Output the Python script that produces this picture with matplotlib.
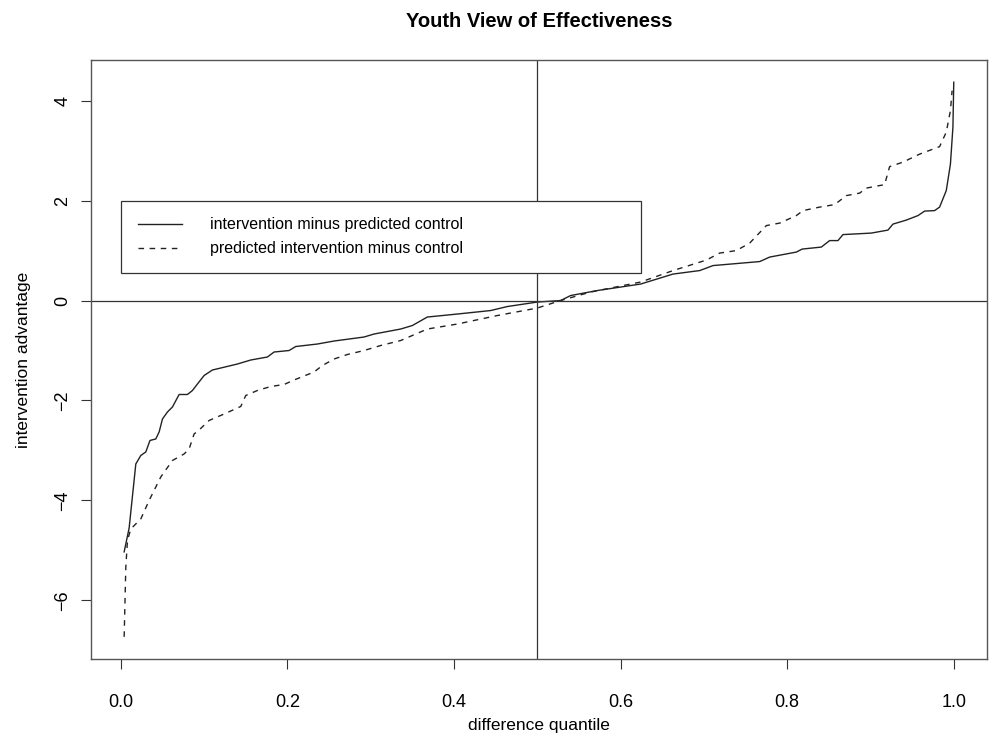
import matplotlib
matplotlib.use('Agg')
from matplotlib import pyplot as plt

plt.rcParams['font.family'] = ['Liberation Sans', 'DejaVu Sans']

# intervention minus predicted control (solid)
solid_q = [0.004, 0.010, 0.018, 0.024, 0.030, 0.035, 0.042, 0.046, 0.050, 0.056,
           0.062, 0.070, 0.080, 0.086, 0.092, 0.100, 0.110, 0.120, 0.140, 0.156,
           0.176, 0.184, 0.202, 0.210, 0.236, 0.256, 0.292, 0.304, 0.336, 0.350,
           0.368, 0.404, 0.444, 0.464, 0.500, 0.528, 0.540, 0.572, 0.624, 0.663,
           0.695, 0.711, 0.767, 0.779, 0.811, 0.818, 0.841, 0.851, 0.861, 0.867,
           0.901, 0.921, 0.927, 0.943, 0.957, 0.965, 0.977, 0.983, 0.991, 0.996,
           0.999, 1.000]
solid_adv = [-5.03, -4.55, -3.27, -3.10, -3.03, -2.80, -2.77, -2.63, -2.37, -2.23,
             -2.13, -1.88, -1.88, -1.80, -1.67, -1.50, -1.39, -1.35, -1.27, -1.19,
             -1.13, -1.03, -1.00, -0.92, -0.87, -0.81, -0.73, -0.67, -0.57, -0.50,
             -0.33, -0.27, -0.20, -0.12, -0.03, 0.00, 0.10, 0.20, 0.33, 0.53,
             0.60, 0.70, 0.78, 0.87, 0.97, 1.03, 1.07, 1.20, 1.20, 1.32,
             1.35, 1.41, 1.53, 1.61, 1.70, 1.79, 1.80, 1.87, 2.20, 2.73,
             3.47, 4.37]

# predicted intervention minus control (dashed)
dash_q = [0.004, 0.006, 0.008, 0.012, 0.024, 0.034, 0.048, 0.062, 0.076, 0.082,
          0.088, 0.094, 0.106, 0.124, 0.144, 0.150, 0.164, 0.180, 0.196, 0.208,
          0.232, 0.242, 0.256, 0.272, 0.292, 0.312, 0.336, 0.368, 0.404, 0.452,
          0.500, 0.528, 0.564, 0.624, 0.663, 0.703, 0.719, 0.739, 0.755, 0.775,
          0.791, 0.811, 0.819, 0.839, 0.857, 0.871, 0.887, 0.895, 0.917, 0.923,
          0.939, 0.959, 0.983, 0.991, 0.996, 0.998]
dash_adv = [-6.73, -5.33, -4.80, -4.57, -4.37, -4.00, -3.53, -3.20, -3.07, -2.97,
            -2.67, -2.59, -2.40, -2.27, -2.12, -1.90, -1.80, -1.72, -1.68, -1.59,
            -1.43, -1.30, -1.17, -1.08, -1.00, -0.90, -0.80, -0.57, -0.47, -0.30,
            -0.15, 0.00, 0.17, 0.37, 0.60, 0.81, 0.95, 1.00, 1.15, 1.50,
            1.55, 1.70, 1.80, 1.87, 1.92, 2.10, 2.15, 2.25, 2.32, 2.68,
            2.77, 2.93, 3.08, 3.37, 3.80, 4.20]

xticks = [0.0, 0.2, 0.4, 0.6, 0.8, 1.0]
yticks = [-6, -4, -2, 0, 2, 4]
labels = ['intervention minus predicted control', 'predicted intervention minus control']

fig = plt.figure(figsize=(9.92, 7.37), dpi=100)
ax = fig.add_axes([0.0917, 0.1058, 0.9032, 0.8128])

ax.plot(solid_q, solid_adv, color='#222222', lw=1.0, label=labels[0])
ax.plot(dash_q, dash_adv, color='#222222', lw=1.0, linestyle=(0, (4, 4)), label=labels[1])
ax.axvline(0.5, color='#333333', lw=0.9)
ax.axhline(0, color='#333333', lw=0.9)

# R style 4% padding
xr = max(solid_q) - min(solid_q)
yr = max(solid_adv + dash_adv) - min(solid_adv + dash_adv)
ax.set_xlim(min(solid_q) - 0.04 * xr, max(solid_q) + 0.04 * xr)
ax.set_ylim(min(solid_adv + dash_adv) - 0.04 * yr, max(solid_adv + dash_adv) + 0.04 * yr)

ax.set_xticks(xticks)
ax.set_yticks(yticks)
ax.set_xticklabels(['%.1f' % v for v in xticks])
ax.set_yticklabels([str(v).replace('-', '\u2212') for v in yticks], rotation=90, va='center')
ax.tick_params(direction='out', length=7, width=0.8, colors='#333333', labelcolor='black',
               labelsize=13)
ax.tick_params(axis='x', pad=18)
ax.tick_params(axis='y', pad=7)
for s in ax.spines.values():
    s.set_color('#555555')
    s.set_linewidth(1.0)

ax.set_title('Youth View of Effectiveness', fontsize=14.5, fontweight='bold', pad=24)
ax.set_xlabel('difference quantile', fontsize=12.5, labelpad=5)
ax.set_ylabel('intervention advantage', fontsize=12.5, labelpad=17)

# legend box stretched to the width R gave it
leg = ax.legend(loc='upper left', bbox_to_anchor=(0, 0.56, 0.624, 1.44),
                bbox_transform=ax.transData, mode='expand', borderaxespad=0,
                fontsize=11.5, handlelength=2.8, handletextpad=1.75, borderpad=1.05,
                labelspacing=0.56, fancybox=False, framealpha=1, edgecolor='#333333')
leg.get_frame().set_linewidth(0.9)

plt.savefig('out.png', dpi=100)
